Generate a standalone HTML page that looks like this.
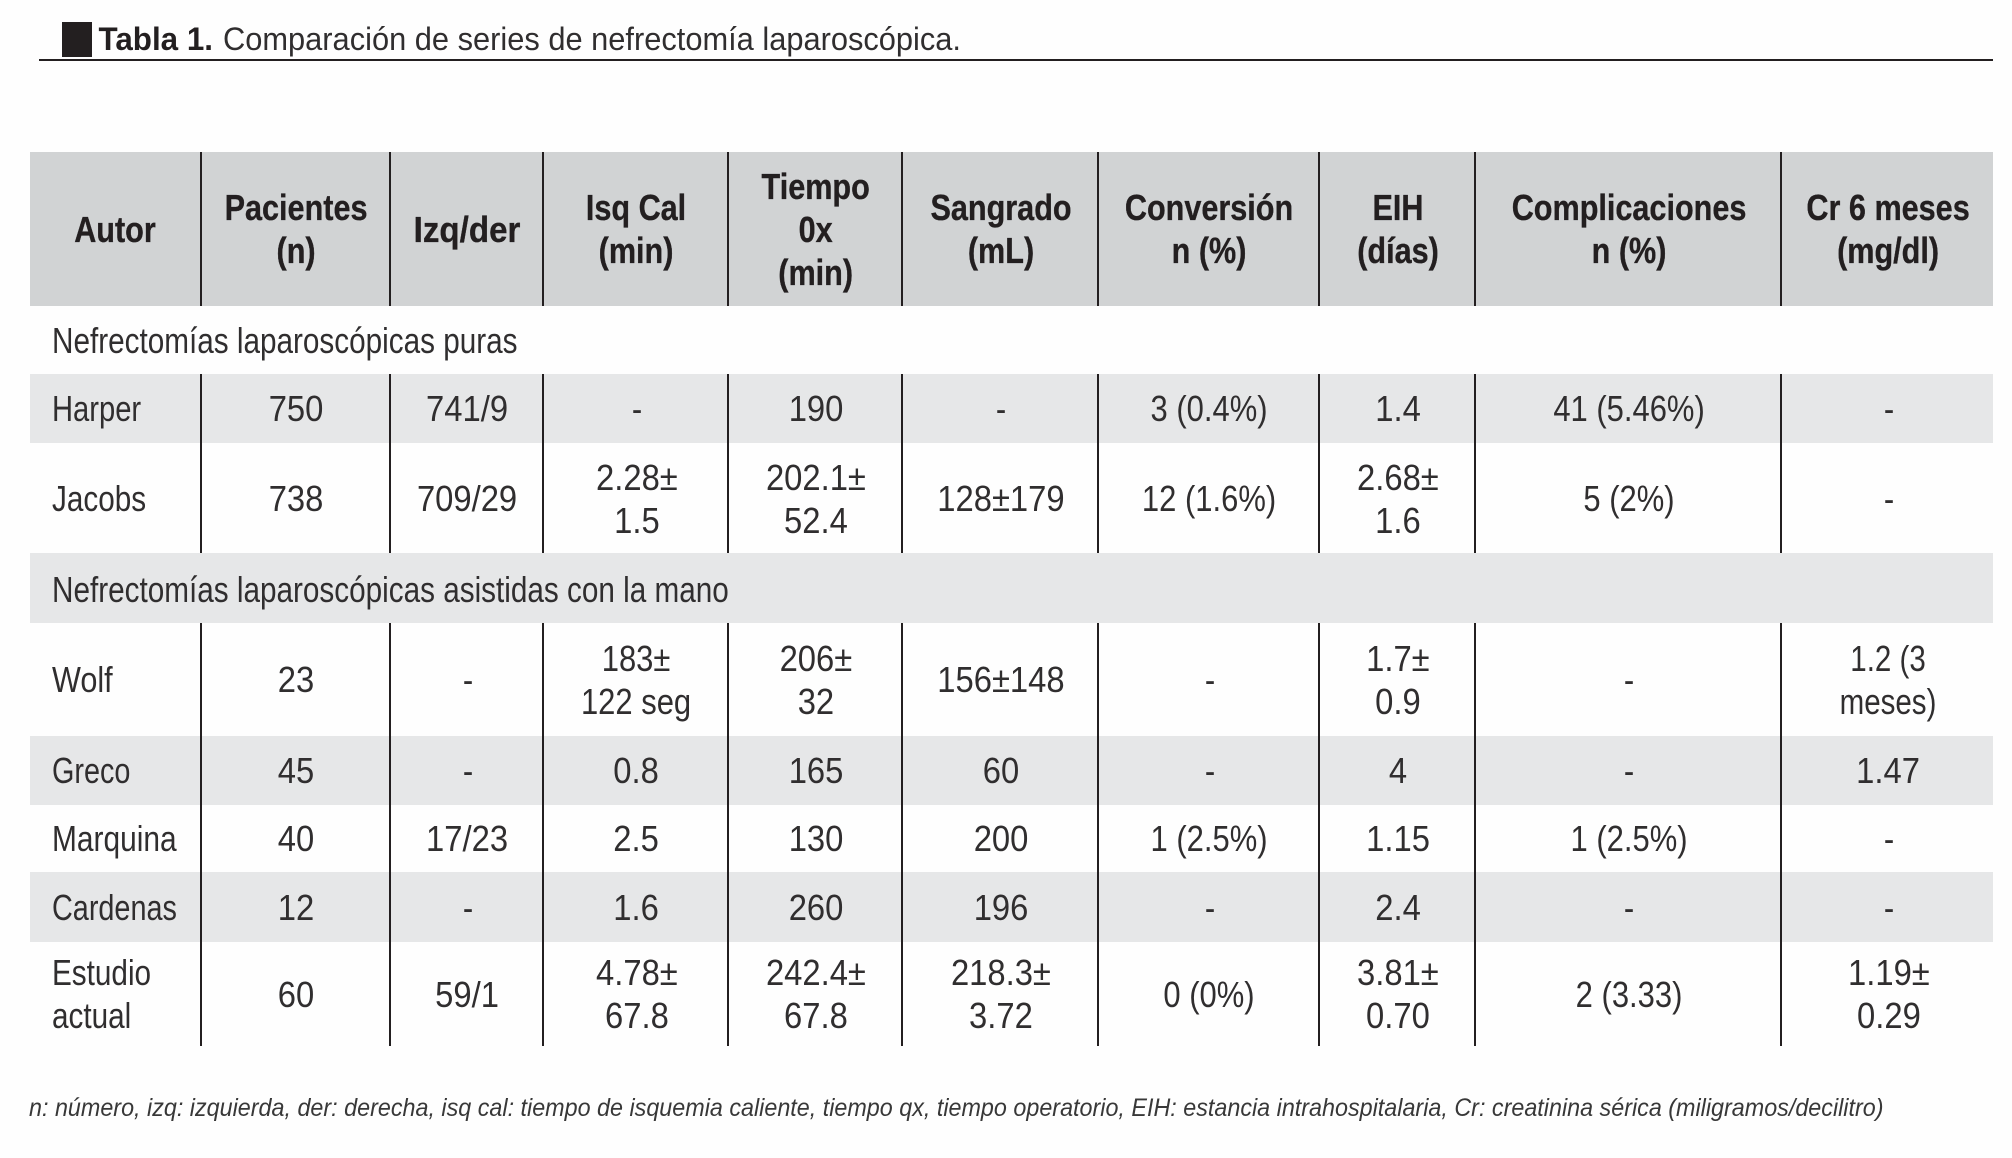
<!DOCTYPE html>
<html lang="es">
<head>
<meta charset="utf-8">
<title>Tabla 1</title>
<style>
html,body{margin:0;padding:0;background:#fefefe;}
body{width:2012px;height:1158px;position:relative;overflow:hidden;font-family:"Liberation Sans",sans-serif;color:#302e2f;}
#overlay{position:absolute;left:0;top:0;}
#title-rule{position:absolute;left:39px;top:58.5px;width:1954px;height:2px;background:#231f20;}
#title-square{position:absolute;left:62px;top:22px;width:30px;height:35px;background:#231f20;}
table{position:absolute;left:30px;top:152px;width:1963px;border-collapse:separate;border-spacing:0;table-layout:fixed;font-size:36px;line-height:43px;}
td,th{padding:0;text-align:center;vertical-align:middle;font-weight:normal;overflow:visible;}
td+td,th+th{border-left:2px solid #231f20;padding-left:2px;}
td:first-child{text-align:left;padding-left:22px;}
th{background:#d1d3d4;font-weight:bold;color:#231f20;-webkit-text-stroke:.35px #231f20;}
.g td{background:#e6e7e8;}
.t{display:inline-block;white-space:nowrap;transform:scaleX(.86);transform-origin:center;}
th .t{transform:scaleX(.85);}
th .t.w{transform:scaleX(.92);}
.t.n{transform:scaleX(.91);}
.t.m{transform:scaleX(.82);}
.t.d{position:relative;top:1px;}
td:first-child .t{transform-origin:left center;}
.sec td{padding-left:22px;text-align:left;}
.sec .t{transform:scaleX(.825);}
.sec.g .t{position:relative;top:1px;}
</style>
</head>
<body>
<div id="title-square"></div>
<div id="title-rule"></div>
<svg id="overlay" width="2012" height="1158">
<text x="98.5" y="50" font-family="Liberation Sans, sans-serif" font-size="32.5" font-weight="bold" fill="#231f20" textLength="114.5" lengthAdjust="spacingAndGlyphs">Tabla 1.</text>
<text x="223" y="50" font-family="Liberation Sans, sans-serif" font-size="32.5" fill="#302e2f" textLength="738" lengthAdjust="spacingAndGlyphs">Comparación de series de nefrectomía laparoscópica.</text>
<text x="29" y="1116" font-family="Liberation Sans, sans-serif" font-size="25" font-style="italic" fill="#383838" textLength="1854.5" lengthAdjust="spacingAndGlyphs">n: número, izq: izquierda, der: derecha, isq cal: tiempo de isquemia caliente, tiempo qx, tiempo operatorio, EIH: estancia intrahospitalaria, Cr: creatinina sérica (miligramos/decilitro)</text>
</svg>
<table>
<colgroup><col style="width:170px"><col style="width:189px"><col style="width:153px"><col style="width:185px"><col style="width:174px"><col style="width:196px"><col style="width:221px"><col style="width:156px"><col style="width:306px"><col style="width:213px"></colgroup>
<tr style="height:154px">
<th><span class="t">Autor</span></th>
<th><span class="t">Pacientes<br>(n)</span></th>
<th><span class="t w">Izq/der</span></th>
<th><span class="t">Isq Cal<br>(min)</span></th>
<th><span class="t">Tiempo<br>0x<br>(min)</span></th>
<th><span class="t">Sangrado<br>(mL)</span></th>
<th><span class="t">Conversión<br>n (%)</span></th>
<th><span class="t">EIH<br>(días)</span></th>
<th><span class="t">Complicaciones<br>n (%)</span></th>
<th><span class="t">Cr 6 meses<br>(mg/dl)</span></th>
</tr>
<tr class="sec" style="height:68px"><td colspan="10"><span class="t" style="transform-origin:left center">Nefrectomías laparoscópicas puras</span></td></tr>
<tr class="g" style="height:69px">
<td><span class="t" style="transform:scaleX(.81)">Harper</span></td><td><span class="t n">750</span></td><td><span class="t n">741/9</span></td><td><span class="t">-</span></td><td><span class="t n">190</span></td><td><span class="t">-</span></td><td><span class="t">3 (0.4%)</span></td><td><span class="t n">1.4</span></td><td><span class="t">41 (5.46%)</span></td><td><span class="t">-</span></td>
</tr>
<tr style="height:110px">
<td><span class="t" style="transform:scaleX(.825)">Jacobs</span></td><td><span class="t n">738</span></td><td><span class="t n">709/29</span></td><td><span class="t n d">2.28±<br>1.5</span></td><td><span class="t n d">202.1±<br>52.4</span></td><td><span class="t n">128±179</span></td><td><span class="t">12 (1.6%)</span></td><td><span class="t n d">2.68±<br>1.6</span></td><td><span class="t">5 (2%)</span></td><td><span class="t">-</span></td>
</tr>
<tr class="sec g" style="height:70px"><td colspan="10"><span class="t" style="transform-origin:left center">Nefrectomías laparoscópicas asistidas con la mano</span></td></tr>
<tr style="height:113px">
<td><span class="t" style="transform:scaleX(.85)">Wolf</span></td><td><span class="t n">23</span></td><td><span class="t">-</span></td><td><span class="t">183±<br>122 seg</span></td><td><span class="t n">206±<br>32</span></td><td><span class="t n">156±148</span></td><td><span class="t">-</span></td><td><span class="t n">1.7±<br>0.9</span></td><td><span class="t">-</span></td><td><span class="t m">1.2 (3<br>meses)</span></td>
</tr>
<tr class="g" style="height:69px">
<td><span class="t" style="transform:scaleX(.8)">Greco</span></td><td><span class="t n">45</span></td><td><span class="t">-</span></td><td><span class="t n">0.8</span></td><td><span class="t n">165</span></td><td><span class="t n">60</span></td><td><span class="t">-</span></td><td><span class="t n">4</span></td><td><span class="t">-</span></td><td><span class="t n">1.47</span></td>
</tr>
<tr style="height:67px">
<td><span class="t" style="transform:scaleX(.83)">Marquina</span></td><td><span class="t n">40</span></td><td><span class="t n">17/23</span></td><td><span class="t n">2.5</span></td><td><span class="t n">130</span></td><td><span class="t n">200</span></td><td><span class="t">1 (2.5%)</span></td><td><span class="t n">1.15</span></td><td><span class="t">1 (2.5%)</span></td><td><span class="t">-</span></td>
</tr>
<tr class="g" style="height:70px">
<td><span class="t" style="transform:scaleX(.8)">Cardenas</span></td><td><span class="t n">12</span></td><td><span class="t">-</span></td><td><span class="t n">1.6</span></td><td><span class="t n">260</span></td><td><span class="t n">196</span></td><td><span class="t">-</span></td><td><span class="t n">2.4</span></td><td><span class="t">-</span></td><td><span class="t">-</span></td>
</tr>
<tr style="height:104px">
<td><span class="t" style="transform:scaleX(.825)">Estudio<br>actual</span></td><td><span class="t n">60</span></td><td><span class="t n">59/1</span></td><td><span class="t n">4.78±<br>67.8</span></td><td><span class="t n">242.4±<br>67.8</span></td><td><span class="t n">218.3±<br>3.72</span></td><td><span class="t">0 (0%)</span></td><td><span class="t n">3.81±<br>0.70</span></td><td><span class="t">2 (3.33)</span></td><td><span class="t n">1.19±<br>0.29</span></td>
</tr>
</table>
</body>
</html>
